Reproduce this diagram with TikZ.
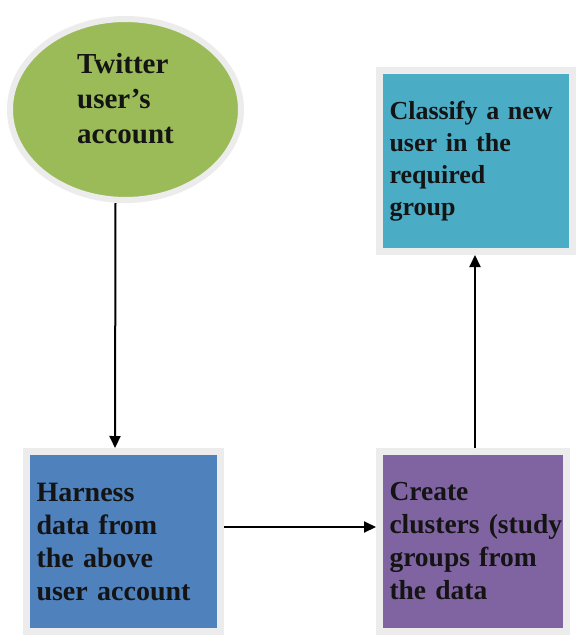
\documentclass[tikz,border=0pt]{standalone}
\usepackage{fontspec}
\setmainfont{Liberation Serif}
\usetikzlibrary{arrows.meta,shapes.geometric}
\definecolor{tgreen}{HTML}{9BBB59}
\definecolor{tblue}{HTML}{4F81BD}
\definecolor{tpurple}{HTML}{8064A2}
\definecolor{tteal}{HTML}{4BACC6}
\definecolor{edgec}{HTML}{ECECEC}
\definecolor{textc}{HTML}{141414}
\begin{document}
\begin{tikzpicture}[x=1pt,y=-1pt,
  box/.style={rectangle, draw=edgec, line width=7pt, inner xsep=10pt, inner ysep=5pt,
    align=left, text=textc},
  bigtext/.style={font=\bfseries\fontsize{28}{33}\selectfont},
  smalltext/.style={font=\bfseries\fontsize{26}{32}\selectfont},
  conn/.style={line width=2pt, draw=black, -{Triangle[length=12pt,width=11pt]}}]
\path[fill=white] (0,0) rectangle (575,635);
\node[ellipse, draw=edgec, line width=6pt, fill=tgreen, minimum width=231pt, minimum height=181pt,
  inner sep=0pt, align=left, text=textc, font=\bfseries\fontsize{29}{35}\selectfont]
  (twit) at (125.5,109.5) {Twitter\\user’s\\account\\[-12pt]\mbox{}};
\node[box, fill=tblue, bigtext, minimum width=194pt, minimum height=180pt, text width=174pt]
  (harness) at (123.5,541.5) {Harness\\data from\\the above\\user account};
\node[box, fill=tpurple, font=\bfseries\fontsize{27.5}{33}\selectfont, minimum width=187pt, minimum height=180pt, text width=167pt]
  (create) at (473,541.5) {Create\\\mbox{clusters (study}\\groups from\\the data};
\node[box, fill=tteal, smalltext, minimum width=193pt, minimum height=181pt, text width=173pt]
  (classify) at (476,161) {Classify a new\\user in the\\required\\group\\[-26pt]\mbox{}};
\draw[conn] ([xshift=-10pt]twit.south) -- ([xshift=-8.5pt]harness.north);
\draw[conn] ([yshift=14.5pt]harness.east) -- ([yshift=14.5pt]create.west);
\draw[conn] ([xshift=2pt]create.north) -- ([xshift=2pt]create.north |- classify.south);
\end{tikzpicture}
\end{document}
